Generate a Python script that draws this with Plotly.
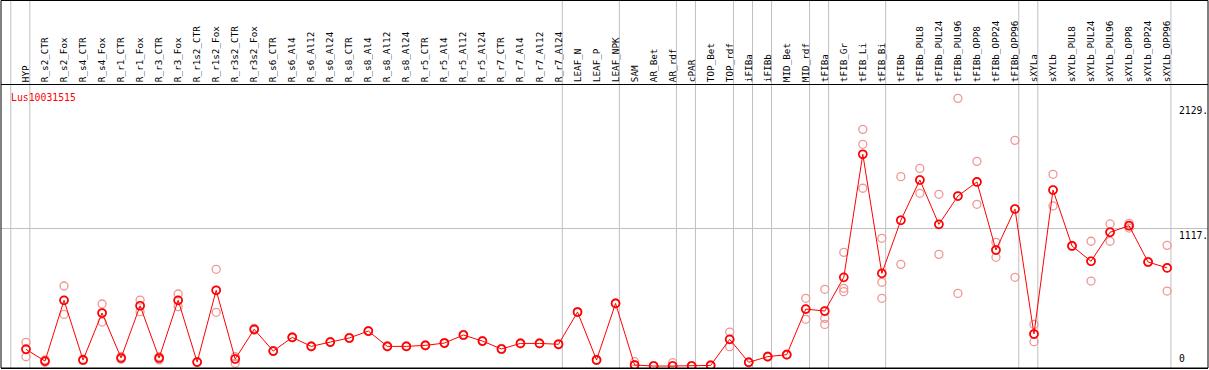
import plotly.graph_objects as go

categories = ["HYP", "R_s2_CTR", "R_s2_Fox", "R_s4_CTR", "R_s4_Fox", "R_r1_CTR", "R_r1_Fox",
              "R_r3_CTR", "R_r3_Fox", "R_r1s2_CTR", "R_r1s2_Fox", "R_r3s2_CTR", "R_r3s2_Fox",
              "R_s6_CTR", "R_s6_Al4", "R_s6_Al12", "R_s6_Al24", "R_s8_CTR", "R_s8_Al4", "R_s8_Al12",
              "R_s8_Al24", "R_r5_CTR", "R_r5_Al4", "R_r5_Al12", "R_r5_Al24", "R_r7_CTR", "R_r7_Al4",
              "R_r7_Al12", "R_r7_Al24", "LEAF_N", "LEAF_P", "LEAF_NPK", "SAM", "AR_Bet", "AR_rdf",
              "cPAR", "TOP_Bet", "TOP_rdf", "iFIBa", "iFIBb", "MID_Bet", "MID_rdf", "tFIBa",
              "tFIB_Gr", "tFIB_Li", "tFIB_Bi", "tFIBb", "tFIBb_PUL8", "tFIBb_PUL24", "tFIBb_PUL96",
              "tFIBb_OPP8", "tFIBb_OPP24", "tFIBb_OPP96", "sXYLa", "sXYLb", "sXYLb_PUL8",
              "sXYLb_PUL24", "sXYLb_PUL96", "sXYLb_OPP8", "sXYLb_OPP24", "sXYLb_OPP96"]

group_sizes = [1, 28, 3, 3, 1, 2, 1, 1, 2, 1, 3, 7, 1, 7]

mean_values = [135, 40, 532, 49, 429, 65, 488, 65, 532, 32, 613, 57, 297,
               121, 232, 159, 194, 227, 283, 159, 159, 167, 186, 251, 202, 138, 183, 183, 176,
               437, 49, 507, 8, 0, 0, 0, 5, 216, 30, 76, 92, 461, 445,
               718, 1714, 750, 1180, 1506, 1147, 1376, 1490, 939, 1271,
               259, 1425, 972, 848, 1083, 1136, 842, 794]

rep1 = [192, 50, 648, 55, 502, 75, 534, 75, 583, 35, 783, 75, 305,
        125, 236, 162, 198, 231, 287, 163, 162, 171, 190, 255, 206, 142, 187, 187, 180,
        441, 53, 511, 35, 3, 27, 3, 9, 275, 35, 80, 96, 548, 621,
        920, 1916, 1034, 1533, 1600, 1390, 2167, 1657, 1001, 1827,
        337, 1552, 976, 1010, 1150, 1155, 846, 977]
rep2 = [140, 35, 532, 45, 429, 60, 488, 60, 532, 30, 613, 57, 295,
        118, 229, 156, 191, 224, 280, 156, 157, 164, 183, 248, 199, 135, 180, 180, 173,
        434, 46, 504, 10, 0, 2, 0, 4, 216, 28, 73, 89, 461, 386,
        629, 1795, 678, 1180, 1506, 1147, 1376, 1490, 939, 1271,
        259, 1425, 969, 848, 1083, 1136, 839, 794]
rep3 = [75, 30, 418, 47, 356, 55, 440, 50, 481, 30, 435, 22, 290,
        121, 232, 159, 194, 227, 283, 159, 159, 167, 186, 251, 202, 138, 183, 183, 176,
        437, 49, 507, 8, 0, 0, 0, 5, 157, 30, 76, 92, 378, 337,
        602, 1439, 548, 823, 1398, 904, 588, 1309, 880, 718,
        197, 1296, 972, 688, 1010, 1117, 842, 607]

y_tick_values = [0, 1117, 2129]
y_tick_labels = ["0", "1117.", "2129."]
gene_name = "Lus10031515"

FONT = "DejaVu Sans Mono"
x_idx = list(range(len(categories)))

fig = go.Figure()

rep_color = "rgb(240,150,150)"
for reps in (rep1, rep2, rep3):
    fig.add_trace(go.Scatter(
        x=x_idx, y=reps, mode="markers",
        marker=dict(symbol="circle-open", size=8, color=rep_color, line=dict(width=1.3, color=rep_color)),
        hoverinfo="skip", showlegend=False))

fig.add_trace(go.Scatter(
    x=x_idx, y=mean_values, mode="lines+markers",
    line=dict(color="red", width=1),
    marker=dict(symbol="circle-open", size=8, color="red", line=dict(width=1.7, color="red")),
    showlegend=False))

W, H = 1209, 370
mt, mb, ml, mr = 85, 2, 1, 1
plot_h = H - mt - mb
plot_w = W - ml - mr
top_paper = 1 + mt / plot_h

shapes = []
start = 0
for g in group_sizes:
    xs = start - 0.8
    shapes.append(dict(type="line", xref="x", yref="paper", x0=xs, x1=xs, y0=0, y1=top_paper,
                       line=dict(color="#c0c0c0", width=1), layer="below"))
    start += g
xs = start - 0.8
shapes.append(dict(type="line", xref="x", yref="paper", x0=xs, x1=xs, y0=0, y1=top_paper,
                   line=dict(color="#c0c0c0", width=1), layer="below"))
shapes.append(dict(type="rect", xref="paper", yref="paper", x0=0, x1=1, y0=0, y1=top_paper - 0.5 / plot_h,
                   line=dict(color="black", width=1), fillcolor="rgba(0,0,0,0)"))

annotations = []
for v, t in zip(y_tick_values, y_tick_labels):
    annotations.append(dict(x=(1177 - ml) / plot_w, xref="paper", y=v, yref="y", text=t,
                            showarrow=False, xanchor="left", yanchor="bottom" if v == 0 else "top",
                            font=dict(family=FONT, size=9.7, color="black")))
annotations.append(dict(x=8 / plot_w, xref="paper", y=1 - 5 / plot_h, yref="paper", text=gene_name,
                        showarrow=False, xanchor="left", yanchor="top",
                        font=dict(family=FONT, size=9.8, color="red")))

fig.update_layout(
    width=W, height=H,
    margin=dict(l=ml, r=mr, t=mt, b=mb, pad=0),
    plot_bgcolor="white", paper_bgcolor="white",
    shapes=shapes, annotations=annotations,
    xaxis=dict(range=[-1.314, 62.15], side="top", tickmode="array", tickvals=x_idx, ticktext=categories,
               tickangle=-90, tickfont=dict(family=FONT, size=9.3, color="black"), ticks="",
               showgrid=False, zeroline=False, showline=True, linecolor="black", linewidth=1, mirror=True,
               automargin=False),
    yaxis=dict(range=[-16, 2275], tickmode="array", tickvals=[1117], showticklabels=False,
               showgrid=True, gridcolor="#c0c0c0", gridwidth=1, zeroline=False, showline=False,
               automargin=False),
)

fig.write_html("out.html", config={"displayModeBar": False},
               post_script="document.body.style.margin='0';document.body.style.padding='0';")
